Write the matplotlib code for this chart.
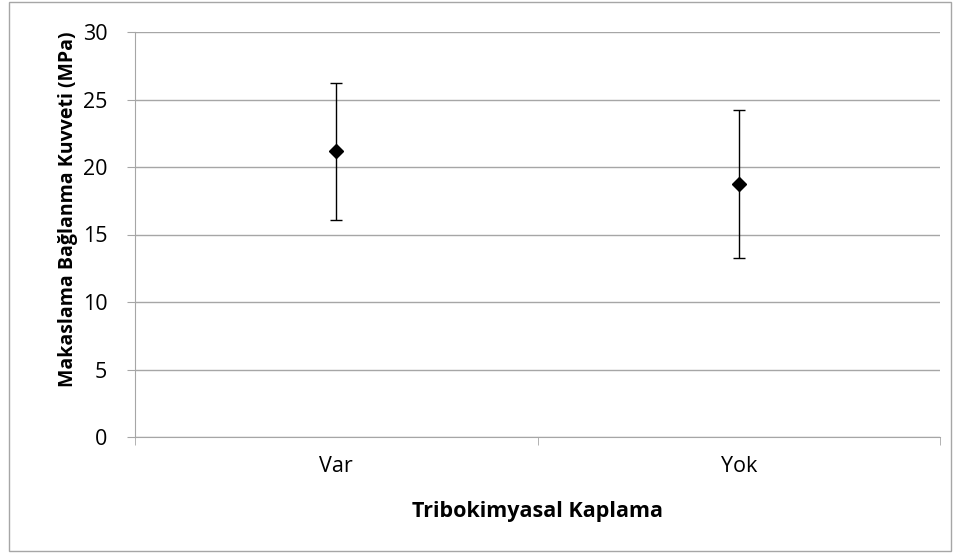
import numpy as np
import matplotlib.pyplot as plt
from matplotlib.patches import Rectangle

plt.rcParams['font.family'] = ['Open Sans', 'DejaVu Sans']

# data
categories = ['Var', 'Yok']
means = [21.15, 18.72]
errors = [5.08, 5.48]

fig = plt.figure(figsize=(9.6, 5.6), dpi=100)
ax = fig.add_axes([135 / 960, 1 - 437 / 560, 805 / 960, 405 / 560])

# outer chart border
fig.patches.append(Rectangle((9 / 960, 1 - 551 / 560), 942 / 960, 549 / 560,
                             transform=fig.transFigure, fill=False,
                             edgecolor='#a6a6a6', linewidth=1))

x = np.arange(len(categories))
ax.errorbar(x, means, yerr=errors, fmt='D', color='black', markersize=7,
            ecolor='black', elinewidth=1, capsize=4.5, capthick=1)

ax.set_xlim(-0.5, len(categories) - 0.5)
ax.set_ylim(0, 30)
ax.set_yticks(range(0, 31, 5))
ax.yaxis.grid(True, color='#a6a6a6', linewidth=1)
ax.set_axisbelow(True)

ax.set_xticks(x)
ax.set_xticklabels(categories, fontsize=15.5)
ax.set_xticks(np.arange(-0.5, len(categories), 1), minor=True)
ax.tick_params(axis='x', which='major', length=0, pad=14)
ax.tick_params(axis='x', which='minor', length=6, color='#a6a6a6')
ax.tick_params(axis='y', length=6, color='#a6a6a6', labelsize=15.5, pad=14)

for side in ['top', 'right']:
    ax.spines[side].set_visible(False)
for side in ['left', 'bottom']:
    ax.spines[side].set_color('#a6a6a6')

ax.set_xlabel('Tribokimyasal Kaplama', fontsize=15.5, fontweight='bold', labelpad=17)
ax.set_ylabel('Makaslama Bağlanma Kuvveti (MPa)', fontsize=14, fontweight='bold')
# label sits a little above the middle of the axis, as in the original
ax.yaxis.set_label_coords(-0.071, 0.563)

fig.savefig('out.png', dpi=100)
